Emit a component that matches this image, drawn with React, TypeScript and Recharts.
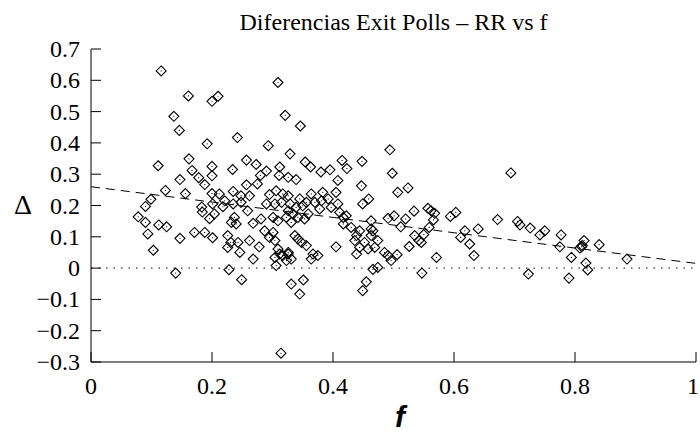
import React from 'react';
import { ReferenceLine, Scatter, ScatterChart, XAxis, YAxis } from 'recharts';

const TITLE = 'Diferencias Exit Polls \u2013 RR vs f';

const X_TICKS = [0, 0.2, 0.4, 0.6, 0.8, 1];
const Y_TICKS = [-0.3, -0.2, -0.1, 0, 0.1, 0.2, 0.3, 0.4, 0.5, 0.6, 0.7];

// fitted trend at both ends
const FIT_F = [0, 1];
const FIT_DELTA = [0.26, 0.015];

// [f, delta] per district
const POINTS: [number, number][] = [
  // f < 0.21
  [0.116, 0.63], [0.161, 0.55], [0.2, 0.533], [0.21, 0.549], [0.137, 0.485],
  [0.146, 0.44], [0.192, 0.397], [0.162, 0.349], [0.111, 0.327], [0.2, 0.325],
  [0.167, 0.312], [0.178, 0.289], [0.147, 0.283], [0.188, 0.267], [0.2, 0.295],
  [0.123, 0.248], [0.156, 0.238], [0.099, 0.22], [0.09, 0.197], [0.183, 0.195],
  [0.184, 0.179], [0.196, 0.158], [0.078, 0.164], [0.09, 0.146], [0.112, 0.138],
  [0.125, 0.132], [0.094, 0.109], [0.147, 0.095], [0.171, 0.114], [0.188, 0.114],
  [0.201, 0.097], [0.103, 0.057], [0.14, -0.016], [0.2, 0.238],
  // upper middle
  [0.309, 0.593], [0.321, 0.488], [0.242, 0.417], [0.293, 0.391], [0.329, 0.365],
  [0.234, 0.315], [0.257, 0.345], [0.273, 0.331], [0.29, 0.31], [0.312, 0.323],
  [0.28, 0.296], [0.311, 0.296], [0.346, 0.454], [0.354, 0.339], [0.363, 0.323],
  [0.38, 0.307], [0.395, 0.314], [0.415, 0.344], [0.423, 0.318], [0.448, 0.341],
  [0.339, 0.283], [0.408, 0.28], [0.326, 0.29],
  // dense block 0.2 - 0.33
  [0.257, 0.266], [0.275, 0.269], [0.212, 0.237], [0.235, 0.245], [0.248, 0.231],
  [0.262, 0.231], [0.295, 0.235], [0.306, 0.247], [0.317, 0.237], [0.326, 0.231],
  [0.201, 0.205], [0.221, 0.215], [0.235, 0.205], [0.248, 0.21], [0.259, 0.183],
  [0.218, 0.196], [0.29, 0.205], [0.304, 0.205], [0.315, 0.21], [0.329, 0.205],
  [0.204, 0.173], [0.237, 0.162], [0.232, 0.146], [0.24, 0.141], [0.268, 0.143],
  [0.281, 0.157], [0.301, 0.162], [0.309, 0.151], [0.323, 0.162], [0.331, 0.146],
  [0.287, 0.119], [0.301, 0.114], [0.295, 0.098], [0.226, 0.104], [0.231, 0.082],
  [0.243, 0.082], [0.246, 0.05], [0.226, 0.066], [0.262, 0.088], [0.278, 0.068],
  [0.268, 0.029], [0.304, 0.088], [0.309, 0.061], [0.312, 0.045], [0.304, 0.034],
  [0.317, 0.04], [0.326, 0.045], [0.323, 0.024], [0.306, 0.008],
  // dense block 0.33 - 0.47
  [0.447, 0.263], [0.449, 0.205], [0.364, 0.237], [0.383, 0.242], [0.405, 0.242],
  [0.345, 0.221], [0.356, 0.21], [0.35, 0.199], [0.339, 0.194], [0.37, 0.21],
  [0.381, 0.215], [0.392, 0.221], [0.378, 0.189], [0.397, 0.194], [0.408, 0.205],
  [0.326, 0.183], [0.334, 0.173], [0.342, 0.162], [0.353, 0.157], [0.359, 0.173],
  [0.411, 0.178], [0.417, 0.162], [0.422, 0.167], [0.417, 0.141], [0.43, 0.13],
  [0.444, 0.119], [0.439, 0.104], [0.463, 0.125], [0.337, 0.104], [0.342, 0.093],
  [0.348, 0.082], [0.356, 0.072], [0.326, 0.05], [0.331, 0.029], [0.405, 0.068],
  [0.367, 0.045], [0.375, 0.04], [0.364, 0.029], [0.436, 0.088], [0.444, 0.066],
  [0.439, 0.045], [0.452, 0.082], [0.458, 0.061],
  // 0.45 - 0.67
  [0.494, 0.378], [0.498, 0.303], [0.507, 0.242], [0.524, 0.256], [0.459, 0.221],
  [0.534, 0.182], [0.557, 0.191], [0.562, 0.183], [0.568, 0.175], [0.594, 0.165],
  [0.603, 0.178], [0.491, 0.159], [0.501, 0.167], [0.52, 0.157], [0.463, 0.151],
  [0.512, 0.132], [0.559, 0.13], [0.566, 0.154], [0.618, 0.119], [0.64, 0.125],
  [0.611, 0.098], [0.626, 0.077], [0.633, 0.04], [0.535, 0.104], [0.542, 0.088],
  [0.55, 0.107], [0.546, 0.082], [0.526, 0.069], [0.571, 0.034], [0.547, -0.016],
  [0.466, 0.119], [0.463, 0.104], [0.474, 0.088], [0.469, 0.066], [0.485, 0.05],
  [0.491, 0.04], [0.496, 0.024], [0.506, 0.043], [0.474, 0.002], [0.466, -0.004],
  // f > 0.67
  [0.694, 0.304], [0.672, 0.155], [0.705, 0.149], [0.709, 0.138], [0.726, 0.128],
  [0.742, 0.106], [0.75, 0.119], [0.777, 0.106], [0.775, 0.068], [0.794, 0.034],
  [0.815, 0.088], [0.811, 0.068], [0.808, 0.064], [0.812, 0.072], [0.84, 0.075],
  [0.818, 0.016], [0.821, -0.006], [0.886, 0.029], [0.723, -0.019], [0.79, -0.032],
  // below zero
  [0.314, -0.272], [0.345, -0.083], [0.449, -0.072], [0.249, -0.037], [0.228, -0.005],
  [0.331, -0.051], [0.351, -0.038], [0.455, -0.044],
];

const data = POINTS.map(([f, delta]) => ({ f, delta }));
const fitSegment = FIT_F.map((f, i) => ({ x: f, y: FIT_DELTA[i] }));

const SERIF = '"Liberation Serif", "Times New Roman", serif';
const TICK_LEN = 10;
const tickText = { fontFamily: SERIF, fontSize: 24 };
const fmt = (v: number) => (v < 0 ? `\u2212${-v}` : `${v}`);

function Diamond(props: any) {
  const { cx, cy } = props;
  if (cx == null || cy == null) return <g />;
  const r = 5;
  return (
    <g>
      <polygon
        points={`${cx},${cy - r} ${cx + r},${cy} ${cx},${cy + r} ${cx - r},${cy}`}
        fill="none"
        stroke="#000"
        strokeWidth={1.1}
      />
      <circle cx={cx} cy={cy} r={0.6} fill="#000" />
    </g>
  );
}

// keep the last label ("1") inside the 700px picture
const bottomTick = (p: any) => (
  <g key={`b-${p.index}`}>
    <line x1={p.x} y1={p.y} x2={p.x} y2={p.y - TICK_LEN} stroke="#000" />
    <text x={Math.min(p.x, 693)} y={p.y + 32} textAnchor="middle" fill="#000" style={tickText}>
      {fmt(p.payload.value)}
    </text>
  </g>
);

const leftTick = (p: any) => (
  <g key={`l-${p.index}`}>
    <line x1={p.x} y1={p.y} x2={p.x + TICK_LEN} y2={p.y} stroke="#000" />
    <text x={p.x - 11} y={p.y + 8} textAnchor="end" fill="#000" style={tickText}>
      {fmt(p.payload.value)}
    </text>
  </g>
);

const topTick = (p: any) => (
  <line key={`t-${p.index}`} x1={p.x} y1={p.y} x2={p.x} y2={p.y + TICK_LEN} stroke="#000" />
);

const rightTick = (p: any) => (
  <line key={`r-${p.index}`} x1={p.x} y1={p.y} x2={p.x - TICK_LEN} y2={p.y} stroke="#000" />
);

export default function App() {
  return (
    <div style={{ position: 'absolute', left: 0, top: 0, width: 700, height: 433, background: '#fff' }}>
      <ScatterChart width={700} height={433} margin={{ top: 49, right: 4, bottom: 31, left: 41 }}>
        <XAxis
          xAxisId="bottom"
          dataKey="f"
          type="number"
          domain={[0, 1]}
          ticks={X_TICKS}
          interval={0}
          height={40}
          tickSize={0}
          tickMargin={0}
          tickLine={false}
          tick={bottomTick}
          axisLine={{ stroke: '#000' }}
        />
        <XAxis
          xAxisId="top"
          orientation="top"
          dataKey="f"
          type="number"
          domain={[0, 1]}
          ticks={X_TICKS}
          interval={0}
          height={0}
          tickSize={0}
          tickMargin={0}
          tickLine={false}
          tick={topTick}
          axisLine={{ stroke: '#000' }}
        />
        <YAxis
          yAxisId="left"
          dataKey="delta"
          type="number"
          domain={[-0.3, 0.7]}
          ticks={Y_TICKS}
          interval={0}
          width={50}
          tickSize={0}
          tickMargin={0}
          tickLine={false}
          tick={leftTick}
          axisLine={{ stroke: '#000' }}
        />
        <YAxis
          yAxisId="right"
          orientation="right"
          dataKey="delta"
          type="number"
          domain={[-0.3, 0.7]}
          ticks={Y_TICKS}
          interval={0}
          width={0}
          tickSize={0}
          tickMargin={0}
          tickLine={false}
          tick={rightTick}
          axisLine={{ stroke: '#000' }}
        />
        <ReferenceLine
          xAxisId="bottom"
          yAxisId="left"
          y={0}
          stroke="#000"
          strokeWidth={1}
          strokeDasharray="1.5 6"
        />
        <ReferenceLine
          xAxisId="bottom"
          yAxisId="left"
          segment={fitSegment}
          stroke="#000"
          strokeWidth={1}
          strokeDasharray="9 6"
        />
        <Scatter
          xAxisId="top"
          yAxisId="right"
          data={data}
          shape={() => <g />}
          isAnimationActive={false}
        />
        <Scatter
          xAxisId="bottom"
          yAxisId="left"
          data={data}
          shape={<Diamond />}
          isAnimationActive={false}
        />
      </ScatterChart>
      <div
        style={{
          position: 'absolute',
          left: 91,
          top: 8,
          width: 605,
          textAlign: 'center',
          fontFamily: SERIF,
          fontSize: 24,
          lineHeight: '28px',
        }}
      >
        {TITLE}
      </div>
      <div
        style={{
          position: 'absolute',
          left: 8,
          top: 190,
          width: 30,
          textAlign: 'center',
          fontFamily: SERIF,
          fontSize: 28,
          lineHeight: '30px',
        }}
      >
        {'\u0394'}
      </div>
      <div
        style={{
          position: 'absolute',
          left: 370,
          top: 400,
          width: 60,
          textAlign: 'center',
          fontFamily: '"Liberation Sans", Arial, sans-serif',
          fontSize: 30,
          fontWeight: 'bold',
          fontStyle: 'italic',
          lineHeight: '34px',
        }}
      >
        f
      </div>
    </div>
  );
}
